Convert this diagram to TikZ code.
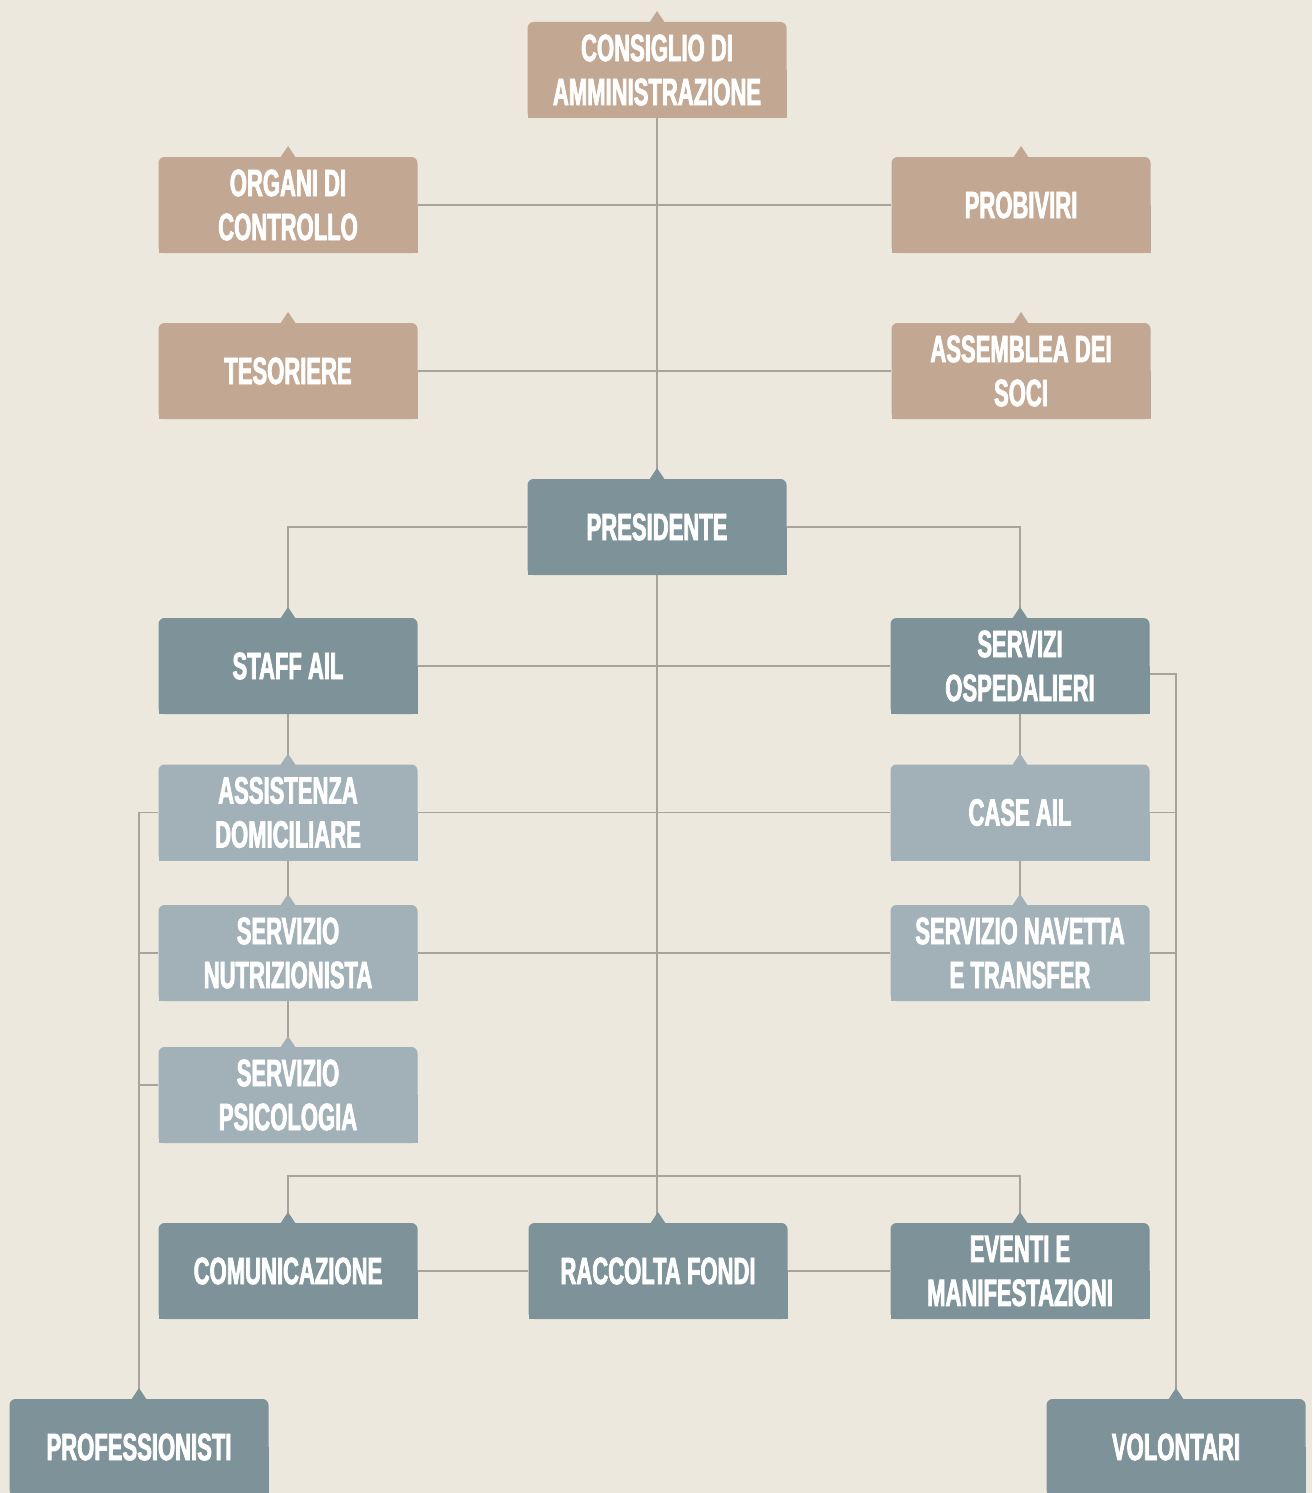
\documentclass[tikz,border=0pt]{standalone}
\usepackage{fontspec}
\setmainfont{Liberation Sans}[BoldFont={Liberation Sans Bold},FakeStretch=0.58,BoldFeatures={FakeStretch=0.58,FakeBold=2}]
\usetikzlibrary{backgrounds}
\definecolor{bgc}{HTML}{ECE8DE}
\definecolor{tanc}{HTML}{C2A792}
\definecolor{darkc}{HTML}{7E9299}
\definecolor{lightc}{HTML}{A2B1B8}
\definecolor{linec}{HTML}{A8A49C}
\tikzset{
  txt/.style={minimum width=259pt,minimum height=96pt,inner sep=0pt,align=center,
    text=white,font=\bfseries\fontsize{38}{44}\selectfont},
  conn/.style={draw=linec,line width=1.4pt}
}
\newcommand\orgbox[5]{%
  \fill[#4,rounded corners=6pt] (#2-129.5,#3-48) rectangle (#2+129.5,#3+48);
  \fill[#4] (#2-129.5,#3) rectangle (#2+129.5,#3+48);
  \fill[#4] (#2-8,#3-47) -- (#2,#3-59) -- (#2+8,#3-47) -- cycle;
  \node[txt] (#1) at (#2,#3) {#5};}
\begin{document}
\begin{tikzpicture}[x=1pt,y=-1pt]
\useasboundingbox (0,0) rectangle (1312,1493);
\begin{scope}[on background layer]
\fill[bgc] (0,0) rectangle (1312,1493);
\end{scope}
\orgbox{consiglio}{657}{70}{tanc}{CONSIGLIO DI\\AMMINISTRAZIONE}
\orgbox{organi}{288}{205}{tanc}{ORGANI DI\\CONTROLLO}
\orgbox{probiviri}{1021}{205}{tanc}{PROBIVIRI}
\orgbox{tesoriere}{288}{371}{tanc}{TESORIERE}
\orgbox{assemblea}{1021}{371}{tanc}{ASSEMBLEA DEI\\SOCI}
\orgbox{presidente}{657}{527}{darkc}{PRESIDENTE}
\orgbox{staff}{288}{666}{darkc}{STAFF AIL}
\orgbox{servizi}{1020}{666}{darkc}{SERVIZI\\OSPEDALIERI}
\orgbox{assistenza}{288}{812.5}{lightc}{ASSISTENZA\\DOMICILIARE}
\orgbox{caseail}{1020}{812.5}{lightc}{CASE AIL}
\orgbox{nutri}{288}{953}{lightc}{SERVIZIO\\NUTRIZIONISTA}
\orgbox{navetta}{1020}{953}{lightc}{SERVIZIO NAVETTA\\E TRANSFER}
\orgbox{psico}{288}{1095}{lightc}{SERVIZIO\\PSICOLOGIA}
\orgbox{comunicazione}{288}{1271}{darkc}{COMUNICAZIONE}
\orgbox{raccolta}{658}{1271}{darkc}{RACCOLTA FONDI}
\orgbox{eventi}{1020}{1271}{darkc}{EVENTI E\\MANIFESTAZIONI}
\orgbox{professionisti}{139}{1447}{darkc}{PROFESSIONISTI}
\orgbox{volontari}{1176}{1447}{darkc}{VOLONTARI}
\begin{scope}[on background layer]
\draw[conn] (consiglio.south) -- (presidente.north);
\draw[conn] (presidente.south) -- (raccolta.north -| presidente.south);
\draw[conn] (organi.east) -- (probiviri.west);
\draw[conn] (tesoriere.east) -- (assemblea.west);
\draw[conn] (presidente.west) -| (staff.north);
\draw[conn] (presidente.east) -| (servizi.north);
\draw[conn] (staff.east) -- (servizi.west);
\draw[conn] (staff.south) -- (assistenza.north);
\draw[conn] (assistenza.south) -- (nutri.north);
\draw[conn] (nutri.south) -- (psico.north);
\draw[conn] (servizi.south) -- (caseail.north);
\draw[conn] (caseail.south) -- (navetta.north);
\draw[conn] (assistenza.east) -- (caseail.west);
\draw[conn] (nutri.east) -- (navetta.west);
\draw[conn] (assistenza.west) -| (professionisti.north);
\draw[conn] (nutri.west) -- (nutri.west -| professionisti.north);
\draw[conn] ([yshift=10pt]psico.west) -- ([yshift=10pt]psico.west -| professionisti.north);
\draw[conn] ([yshift=-8pt]servizi.east) -| (volontari.north);
\draw[conn] (caseail.east) -- (caseail.east -| volontari.north);
\draw[conn] (navetta.east) -- (navetta.east -| volontari.north);
\draw[conn] (comunicazione.north) -- ++(0,-47) -| (eventi.north);
\draw[conn] (comunicazione.east) -- (raccolta.west);
\draw[conn] (raccolta.east) -- (eventi.west);
\end{scope}
\end{tikzpicture}
\end{document}
